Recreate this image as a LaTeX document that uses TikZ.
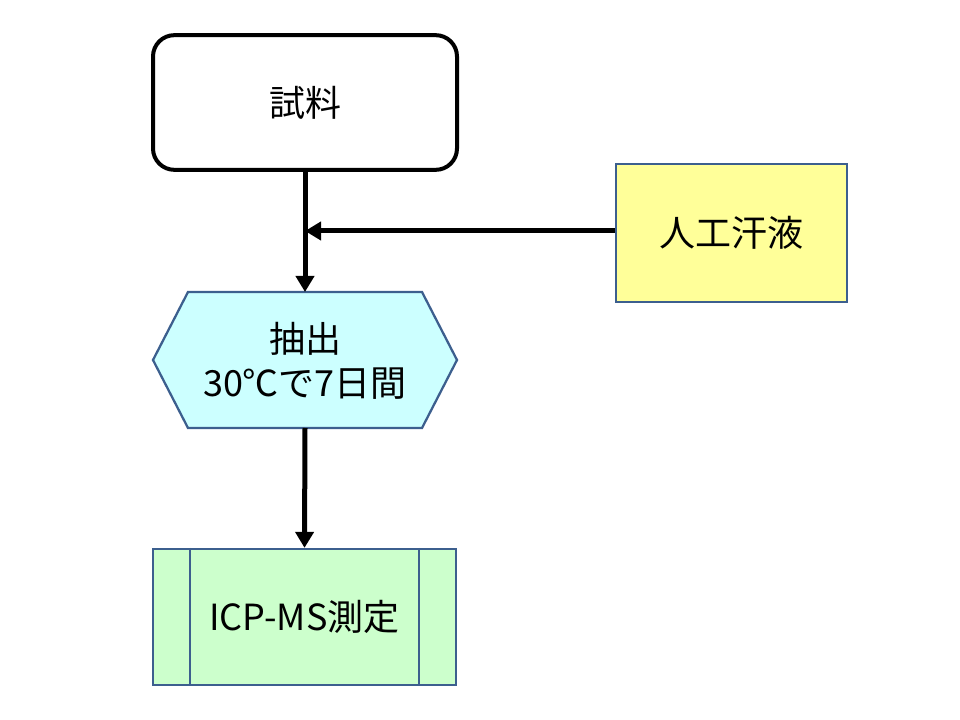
\documentclass[tikz,border=0pt]{standalone}
\usepackage{fontspec}
\newfontfamily\jp{Noto Sans CJK JP}
\usetikzlibrary{arrows.meta}
\definecolor{bord}{HTML}{3C5F8E}
\definecolor{yel}{HTML}{FFFF99}
\definecolor{cya}{HTML}{CCFFFF}
\definecolor{gre}{HTML}{CCFFCC}
\begin{document}
\begin{tikzpicture}[x=0.75pt,y=-0.75pt,
  font=\jp\fontsize{27}{32.5}\selectfont,
  startbox/.style={draw=black, line width=3pt, rounded corners=16pt, fill=white,
    minimum width=228pt, minimum height=101pt, inner sep=0pt},
  inbox/.style={draw=bord, line width=1.7pt, fill=yel,
    minimum width=173pt, minimum height=103pt, inner sep=0pt},
  hexlabel/.style={minimum width=228pt, minimum height=102pt, inner sep=0pt, align=center},
  hexshape/.style={draw=bord, line width=1.7pt, fill=cya},
  predef/.style={draw=bord, line width=1.7pt, fill=gre,
    minimum width=227pt, minimum height=102pt, inner sep=0pt},
  inner/.style={draw=bord, line width=1.7pt},
  arr/.style={draw=black, line width=3.75pt, -{Triangle[length=12pt,width=13.5pt]}}]
\useasboundingbox (0,0) rectangle (960,720);
\node[startbox] (sample) at (305,102.5) {試料};
\node[inbox] (sweat) at (731.5,233) {人工汗液};
\draw[hexshape] (153,360) -- (188,292) -- (422,292) -- (457,360) -- (422,428) -- (188,428) -- cycle;
\node[hexlabel] (extract) at (305,361) {抽出\\30℃で7日間};
\node[predef] (icp) at (304.5,617) {ICP-MS測定};
\draw[inner] ([xshift=28.5pt]icp.north west) -- ([xshift=28.5pt]icp.south west);
\draw[inner] ([xshift=-28.5pt]icp.north east) -- ([xshift=-28.5pt]icp.south east);
\coordinate (join) at (305,231);
\draw[arr] (sample.south) -- (extract.north |- 0,292);
\draw[arr] (sweat.west |- join) -- (join);
\draw[arr] (extract.south |- 0,428) -- (icp.north);
\end{tikzpicture}
\end{document}
